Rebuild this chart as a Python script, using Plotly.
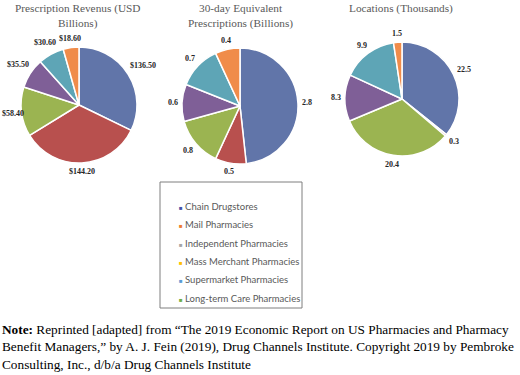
import math
import plotly.graph_objects as go

# ---- data ----
segments = ["Chain Drugstores", "Mail Pharmacies", "Long-term Care Pharmacies",
            "Independent Pharmacies", "Supermarket Pharmacies", "Mass Merchant Pharmacies"]
revenue = [136.50, 144.20, 58.40, 35.50, 30.60, 18.60]
prescriptions = [2.8, 0.5, 0.8, 0.6, 0.7, 0.4]
locations = [22.5, 0.3, 20.4, 8.3, 9.9, 1.5]
pie_titles = ["Prescription Revenus (USD<br>Billions)",
              "30-day Equivalent<br>Prescriptions (Billions)",
              "Locations (Thousands)"]
slice_colors = ["#6175A9", "#B8504E", "#9BB451", "#7F5F97", "#5EA5B6", "#F08C4A"]
legend_labels = ["Chain Drugstores", "Mail Pharmacies", "Independent Pharmacies",
                 "Mass Merchant Pharmacies", "Supermarket Pharmacies", "Long-term Care Pharmacies"]
legend_colors = ["#4452A8", "#ED7D31", "#A5A5A5", "#FFC000", "#5B9BD5", "#70AD47"]
note_text = ("<b>Note:</b> Reprinted [adapted] from “The 2019 Economic Report on US Pharmacies and Pharmacy<br>"
             "Benefit Managers,” by A. J. Fein (2019), Drug Channels Institute. Copyright 2019 by Pembroke<br>"
             "Consulting, Inc., d/b/a Drug Channels Institute")

W, H = 520, 375
def px(x): return x / W
def py(y): return 1 - y / H

fig = go.Figure()
annotations = []

LBL_SIZE = 8
def label_width(s):
    w = 0
    for ch in s:
        w += 0.25 if ch == "." else 0.5
    return w * LBL_SIZE

pies = [
    (revenue, lambda v: f"${v:.2f}", (79, 105, 58)),
    (prescriptions, lambda v: f"{v}", (240, 106, 58)),
    (locations, lambda v: f"{v}", (402, 99, 57)),
]
for vals, fmt, (cx, cy, r) in pies:
    fig.add_trace(go.Pie(
        labels=segments, values=vals, sort=False, direction="clockwise", rotation=0,
        marker=dict(colors=slice_colors, line=dict(color="white", width=1.5)),
        textinfo="none",
        domain=dict(x=[px(cx - r), px(cx + r)], y=[py(cy + r), py(cy - r)]),
        showlegend=False, hoverinfo="label+value",
    ))
    # Excel-style outside-end data labels, placed from the slice mid-angles
    total = sum(vals)
    cum = 0
    for v in vals:
        mid = (cum + v / 2) / total * 2 * math.pi
        cum += v
        s = fmt(v)
        w, h = label_width(s), LBL_SIZE
        dx, dy = math.sin(mid), -math.cos(mid)
        off = 4 + abs(dx) * w / 2 + abs(dy) * h / 2
        lx = cx + dx * r + dx * off
        ly = cy + dy * r + dy * off
        lx = max(lx, w / 2 + 2)
        annotations.append(dict(text=f"<b>{s}</b>", x=px(lx), y=py(ly), xref="paper", yref="paper",
                                xanchor="center", yanchor="middle", showarrow=False,
                                font=dict(family="Liberation Serif", size=LBL_SIZE, color="#262626")))

title_pos = [(78, 0), (240, 0), (401, 0)]
for t, (x, y) in zip(pie_titles, title_pos):
    annotations.append(dict(text=t, x=px(x), y=py(y), xref="paper", yref="paper",
                            xanchor="center", yanchor="top", showarrow=False,
                            font=dict(family="Liberation Serif", size=11.3, color="#595959")))

leg_y = [206, 224.5, 243, 261, 279.5, 298]
for lab, col, y in zip(legend_labels, legend_colors, leg_y):
    annotations.append(dict(
        text=f"<span style='color:{col};font-size:6px'>■</span> {lab}",
        x=px(177), y=py(y), xref="paper", yref="paper", xanchor="left", yanchor="middle",
        showarrow=False, font=dict(family="Lato", size=9.5, color="#595959")))

annotations.append(dict(text=note_text, x=px(0), y=py(320), xref="paper", yref="paper",
                        xanchor="left", yanchor="top", align="left", showarrow=False,
                        font=dict(family="Liberation Serif", size=13.3, color="black")))

fig.update_layout(
    width=W, height=H, margin=dict(l=0, r=0, t=0, b=0),
    paper_bgcolor="white", plot_bgcolor="white",
    annotations=annotations,
    shapes=[dict(type="rect", xref="paper", yref="paper",
                 x0=px(160), x1=px(302), y0=py(308), y1=py(182),
                 line=dict(color="#7F7F7F", width=1))],
)
fig.write_html("out.html")
